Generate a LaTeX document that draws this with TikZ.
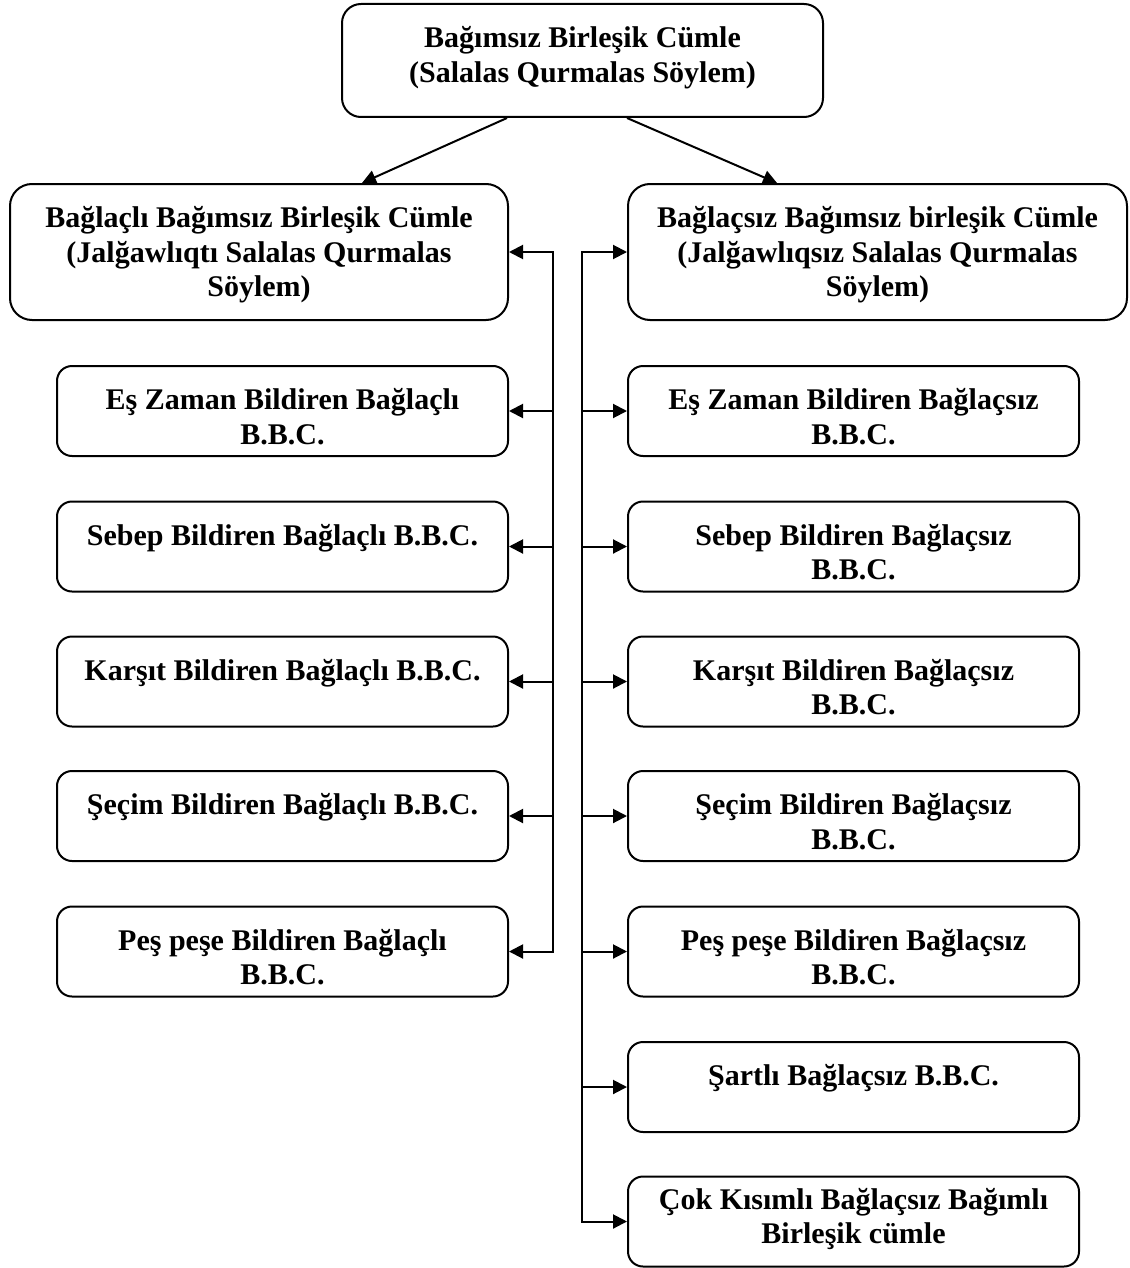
\documentclass[tikz,border=0pt]{standalone}
\usepackage{fontspec}
\setmainfont{Liberation Serif}
\usetikzlibrary{arrows.meta,calc}
\tikzset{
  x=0.5pt, y=-0.5pt,
  frame/.style={draw, line width=1pt, rectangle, inner sep=0pt},
  topframe/.style={frame, rounded corners=9.5pt, minimum width=240.5pt, minimum height=56.5pt},
  mainframe/.style={frame, rounded corners=11pt, minimum width=249pt, minimum height=68pt},
  subframe/.style={frame, rounded corners=7.5pt, minimum width=225.5pt, minimum height=45pt},
  boxtext/.style={anchor=north, inner sep=0pt, align=center,
    font=\fontsize{15}{17.25}\selectfont\bfseries},
  link/.style={line width=1pt, -{Triangle[length=7pt,width=7pt]}},
  duallink/.style={line width=1pt, {Triangle[length=7pt,width=7pt]}-{Triangle[length=7pt,width=7pt]}},
}
\begin{document}
\begin{tikzpicture}
\useasboundingbox (0,0) rectangle (1129,1268);

% root
\node[topframe] (top) at (582.5,60.5) {};
\node[boxtext] (topT) at ($(top.north)+(0,20)$) {\strut Bağımsız Birleşik Cümle\\(Salalas Qurmalas Söylem)};

% two main branches
\node[mainframe] (lmain) at (259,252) {};
\node[boxtext] (lmainT) at ($(lmain.north)+(0,20)$) {\strut Bağlaçlı Bağımsız Birleşik Cümle\\(Jalğawlıqtı Salalas Qurmalas\\Söylem)};
\node[mainframe, minimum width=249.5pt] (rmain) at (877.5,252) {};
\node[boxtext] (rmainT) at ($(rmain.north)+(0,20)$) {\strut Bağlaçsız Bağımsız birleşik Cümle\\(Jalğawlıqsız Salalas Qurmalas\\Söylem)};

% left column
\node[subframe] (l1) at (282.5,411) {};
\node[boxtext] (l1T) at ($(l1.north)+(0,20)$) {\strut Eş Zaman Bildiren Bağlaçlı\\B.B.C.};
\node[subframe] (l2) at (282.5,546.5) {};
\node[boxtext] (l2T) at ($(l2.north)+(0,20)$) {\strut Sebep Bildiren Bağlaçlı B.B.C.};
\node[subframe] (l3) at (282.5,681.5) {};
\node[boxtext] (l3T) at ($(l3.north)+(0,20)$) {\strut Karşıt Bildiren Bağlaçlı B.B.C.};
\node[subframe] (l4) at (282.5,816) {};
\node[boxtext] (l4T) at ($(l4.north)+(0,20)$) {\strut Şeçim Bildiren Bağlaçlı B.B.C.};
\node[subframe] (l5) at (282.5,951.5) {};
\node[boxtext] (l5T) at ($(l5.north)+(0,20)$) {\strut Peş peşe Bildiren Bağlaçlı\\B.B.C.};

% right column
\node[subframe] (r1) at (853.5,411) {};
\node[boxtext] (r1T) at ($(r1.north)+(0,20)$) {\strut Eş Zaman Bildiren Bağlaçsız\\B.B.C.};
\node[subframe] (r2) at (853.5,546.5) {};
\node[boxtext] (r2T) at ($(r2.north)+(0,20)$) {\strut Sebep Bildiren Bağlaçsız\\B.B.C.};
\node[subframe] (r3) at (853.5,681.5) {};
\node[boxtext] (r3T) at ($(r3.north)+(0,20)$) {\strut Karşıt Bildiren Bağlaçsız\\B.B.C.};
\node[subframe] (r4) at (853.5,816) {};
\node[boxtext] (r4T) at ($(r4.north)+(0,20)$) {\strut Şeçim Bildiren Bağlaçsız\\B.B.C.};
\node[subframe] (r5) at (853.5,951.5) {};
\node[boxtext] (r5T) at ($(r5.north)+(0,20)$) {\strut Peş peşe Bildiren Bağlaçsız\\B.B.C.};
\node[subframe] (r6) at (853.5,1087) {};
\node[boxtext] (r6T) at ($(r6.north)+(0,20)$) {\strut Şartlı Bağlaçsız B.B.C.};
\node[subframe] (r7) at (853.5,1221.5) {};
\node[boxtext] (r7T) at ($(r7.north)+(0,9)$) {\strut Çok Kısımlı Bağlaçsız Bağımlı\\Birleşik cümle};

% root to branches
\draw[link] ($(top.south)+(-75.5,0)$) -- ($(lmain.north)+(103,0)$);
\draw[link] ($(top.south)+(44.5,0)$) -- ($(rmain.north)+(-100.5,0)$);

% left bus
\coordinate (lbus) at (553,252);
\draw[duallink] (lmain.east) -- (lmain.east -| lbus) -- (lbus |- l5.east) -- (l5.east);
\foreach \n in {l1,l2,l3,l4} \draw[link] (lbus |- \n.east) -- (\n.east);

% right bus
\coordinate (rbus) at (582,252);
\draw[duallink] (rmain.west) -- (rmain.west -| rbus) -- (rbus |- r7.west) -- (r7.west);
\foreach \n in {r1,r2,r3,r4,r5,r6} \draw[link] (rbus |- \n.west) -- (\n.west);
\end{tikzpicture}
\end{document}
